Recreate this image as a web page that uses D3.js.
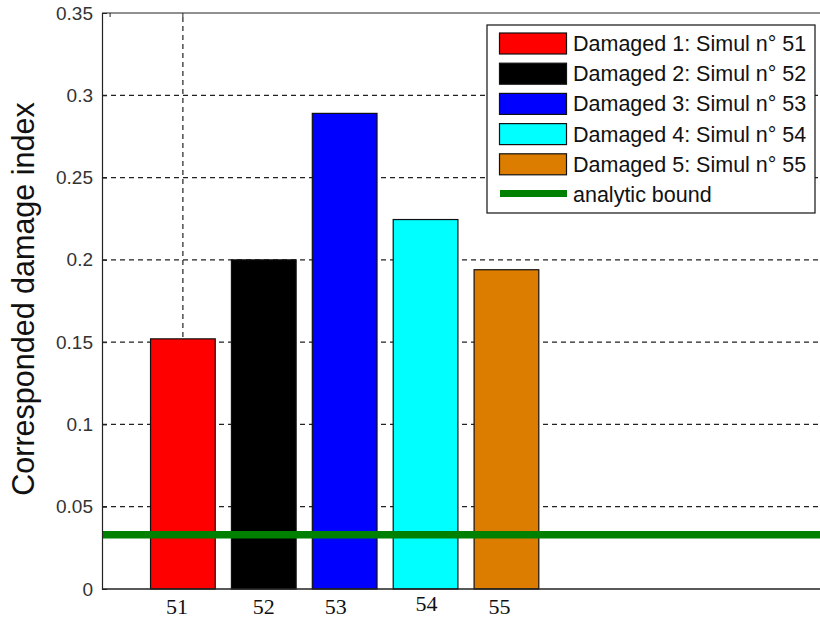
<!DOCTYPE html>
<html><head><meta charset="utf-8">
<script src="https://cdn.jsdelivr.net/npm/d3@7"></script>
<style>body{margin:0;background:#fff}svg{display:block}</style>
</head><body>
<script>
// ---- data ----
const categories = ["51","52","53","54","55"];
const positions = [1,2,3,4,5];
const values = [0.152, 0.200, 0.289, 0.2245, 0.194];
const seriesColors = ["#ff0000","#000000","#0000ff","#00ffff","#dd7d00"];
const legendLabels = ["Damaged 1: Simul n° 51","Damaged 2: Simul n° 52","Damaged 3: Simul n° 53","Damaged 4: Simul n° 54","Damaged 5: Simul n° 55","analytic bound"];
const boundValue = 0.033;
const yTicks = [0,0.05,0.1,0.15,0.2,0.25,0.3,0.35];
const xGridTicks = [1];
// layout nudges for hand-placed category labels (px)
const labelNudgeX = [-6, 0, -9, 1, -7];
const labelNudgeY = [0, 0, 0, -3, 0];

const W = 820, H = 620;
const m = {left:102, top:13, right:-10, bottom:31};
const svg = d3.select("body").append("svg").attr("width",W).attr("height",H);
const x = d3.scaleLinear().domain([0,9]).range([m.left, W - m.right]);
const y = d3.scaleLinear().domain([0,0.35]).range([H - m.bottom, m.top]);
const g = svg.append("g");

// grid
g.selectAll(".hg").data(yTicks.slice(1,-1)).join("line")
  .attr("x1",x(0)).attr("x2",x(9)).attr("y1",d=>y(d)).attr("y2",d=>y(d))
  .attr("stroke","#222").attr("stroke-width",1.2).attr("stroke-dasharray","5,4");
g.selectAll(".vg").data(xGridTicks).join("line")
  .attr("x1",d=>x(d)).attr("x2",d=>x(d)).attr("y1",y(0)).attr("y2",y(0.35))
  .attr("stroke","#222").attr("stroke-width",1.2).attr("stroke-dasharray","5,4");

// bars
const bw = x(0.8) - x(0);
g.selectAll(".bar").data(values).join("rect")
  .attr("x",(d,i)=>x(positions[i]) - bw/2)
  .attr("y",d=>y(d)).attr("width",bw).attr("height",d=>y(0)-y(d))
  .attr("fill",(d,i)=>seriesColors[i]).attr("stroke","#111").attr("stroke-width",1.2);

// analytic bound
g.append("line").attr("x1",x(0)).attr("x2",x(9)).attr("y1",y(boundValue)).attr("y2",y(boundValue))
  .attr("stroke","#008000").attr("stroke-width",7.5);

// axes
const yAxis = d3.axisLeft(y).tickValues(yTicks).tickSize(-5).tickPadding(9).tickFormat(d=>d===0?"0":String(d));
const ya = svg.append("g").attr("transform",`translate(${m.left},0)`).call(yAxis);
ya.select(".domain").attr("stroke","#222").attr("stroke-width",1.2);
ya.selectAll(".tick line").attr("stroke","#222");
ya.selectAll("text").attr("font-family","Liberation Sans, Arial, sans-serif").attr("font-size",19).attr("fill","#333");

svg.append("line").attr("x1",m.left).attr("x2",W).attr("y1",y(0)).attr("y2",y(0)).attr("stroke","#222").attr("stroke-width",1.5);
svg.append("line").attr("x1",m.left).attr("x2",W).attr("y1",y(0.35)).attr("y2",y(0.35)).attr("stroke","#222").attr("stroke-width",1.2);
// top ticks
svg.selectAll(".tt").data([0.1,1]).join("line")
  .attr("x1",d=>x(d)).attr("x2",d=>x(d)).attr("y1",y(0.35)).attr("y2",y(0.35)+4).attr("stroke","#222");

// category labels
svg.selectAll(".cl").data(categories).join("text")
  .attr("x",(d,i)=>x(positions[i]) + labelNudgeX[i])
  .attr("y",(d,i)=>y(0)+25 + labelNudgeY[i])
  .attr("text-anchor","middle").attr("font-family","Liberation Serif, Times New Roman, serif")
  .attr("font-size",22).attr("fill","#111").text(d=>d);

// y label
svg.append("text").attr("transform",`translate(34,${(y(0)+y(0.35))/2 - 2}) rotate(-90)`)
  .attr("text-anchor","middle").attr("font-family","Liberation Sans, Arial, sans-serif")
  .attr("font-size",30.5).attr("fill","#111").text("Corresponded damage index");

// legend
const lg = svg.append("g");
lg.append("rect").attr("x",487).attr("y",25).attr("width",328).attr("height",188)
  .attr("fill","#fff").attr("stroke","#111").attr("stroke-width",1.2);
const rowY = i => 43.5 + i*30.2;
legendLabels.forEach((lab,i)=>{
  if(i<5){
    lg.append("rect").attr("x",499.5).attr("y",rowY(i)-10.5).attr("width",67).attr("height",21)
      .attr("fill",seriesColors[i]).attr("stroke","#111").attr("stroke-width",1.2);
  } else {
    lg.append("line").attr("x1",500).attr("x2",567).attr("y1",rowY(i)-1).attr("y2",rowY(i)-1)
      .attr("stroke","#008000").attr("stroke-width",7);
  }
  lg.append("text").attr("x",573).attr("y",rowY(i)+7.5).attr("font-family","Liberation Sans, Arial, sans-serif")
    .attr("font-size",21.5).attr("fill","#111").text(lab);
});
</script>
</body></html>
